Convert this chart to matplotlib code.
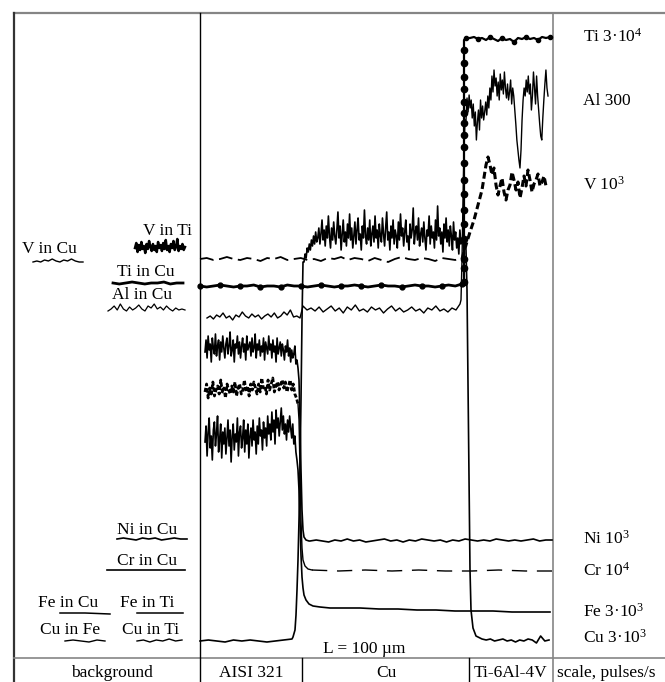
import numpy as np
import matplotlib
matplotlib.use("Agg")
import matplotlib.pyplot as plt

plt.rcParams['font.family'] = ['Liberation Serif', 'DejaVu Serif']
plt.rcParams['mathtext.fontset'] = 'custom'
plt.rcParams['mathtext.rm'] = 'Liberation Serif'
plt.rcParams['mathtext.it'] = 'Liberation Serif:italic'
plt.rcParams['lines.scale_dashes'] = False

# ---------------- data (pixel-scale units, y grows downward) ----------------
# Cu signal
cu_aisi = [641, 640, 641, 642, 640, 641, 640, 641, 642, 641, 640, 639]
cu_rise_x = [293, 295, 296, 297, 298, 299, 300, 301, 302, 303]
cu_rise_y = [637, 630, 615, 590, 560, 520, 470, 400, 320, 262]
cu_cu = [262, 254, 258, 248, 252, 244, 250, 240, 246, 236, 244, 232, 242, 238, 228,
         244, 234, 220, 240, 230, 246, 226, 238, 216, 236, 248, 228, 240, 222, 236,
         244, 230, 212, 238, 226, 250, 234, 220, 242, 232, 246, 224, 238, 214, 240,
         228, 248, 236, 222, 244, 230, 218, 240, 234, 250, 226, 238, 210, 236, 244,
         228, 240, 220, 246, 234, 226, 242, 216, 238, 230, 248, 224, 236, 242, 218,
         234, 246, 228, 212, 240, 232, 250, 226, 238, 220, 244, 230, 236, 248, 222,
         240, 214, 236, 228, 246, 232, 220, 242, 236, 250, 224, 238, 230, 208, 244,
         232, 226, 240, 218, 246, 234, 228, 242, 222, 238, 250, 230, 236, 216, 244,
         226, 238, 232, 248, 220, 240, 206, 236, 228, 244, 232, 252, 224, 238, 218,
         242, 230, 246, 226, 236, 250, 222, 240, 232, 248, 238, 254, 230, 244, 240]
cu_drop_x = [464, 466, 467, 468, 469, 470, 471, 473, 476, 480]
cu_drop_y = [240, 250, 290, 380, 480, 570, 610, 628, 636, 638]
cu_ti = [639, 640, 639, 641, 640, 639, 641, 640, 642, 640, 641, 639, 640, 643, 636, 641, 640]

# Ni signal
ni_aisi = [352, 340, 358, 336, 350, 344, 362, 338, 348, 354,
           334, 356, 346, 340, 360, 342, 352, 336, 348, 358,
           344, 338, 354, 346, 332, 356, 350, 340, 362, 344,
           348, 336, 354, 342, 358, 346, 338, 352, 344, 360,
           336, 350, 346, 342, 356, 338, 352, 348, 334, 358,
           344, 350, 340, 356, 346, 352, 338, 360, 342, 348,
           354, 336, 350, 344, 358, 340, 352, 346, 362, 338,
           354, 348, 342, 356, 344, 350, 360, 346, 352, 340,
           356, 348, 362, 350, 358, 354, 346, 364, 360, 368]
ni_drop_x = [299, 300, 301, 302, 303, 304, 306, 309]
ni_drop_y = [380, 420, 470, 510, 530, 537, 540, 541]
ni_rest = [541, 540, 541, 542, 540, 541, 539, 541, 540, 542, 541, 540, 539, 541, 540, 542,
           540, 541, 539, 540, 541, 540, 542, 540, 541, 539, 540, 541, 540, 541, 539, 540,
           541, 540, 541, 540, 539, 541, 540, 540]

# Cr signal
cr_aisi = [392, 384, 398, 388, 394, 382, 396, 390, 386, 394,
           380, 392, 388, 398, 384, 390, 394, 386, 392, 382,
           396, 388, 384, 394, 390, 380, 392, 386, 396, 384,
           390, 382, 388, 394, 384, 392, 378, 388, 386, 394,
           380, 390, 384, 378, 392, 386, 382, 390, 384, 380,
           388, 382, 392, 386, 380, 390, 384, 394, 398, 404]
cr_drop_x = [299, 300, 301, 302, 303, 305, 308, 312]
cr_drop_y = [420, 470, 520, 548, 560, 566, 569, 570]
cr_rest = [570, 571, 570, 571, 570, 571, 571, 570, 571, 571]

# Fe signal
fe_aisi = [442, 426, 456, 432, 418, 448, 436, 460, 430, 422,
           446, 434, 416, 452, 440, 424, 458, 432, 444, 428,
           454, 438, 420, 446, 430, 462, 436, 424, 450, 434,
           442, 418, 456, 432, 426, 448, 438, 420, 452, 430,
           444, 424, 458, 436, 428, 446, 420, 440, 432, 454,
           426, 444, 418, 436, 430, 450, 422, 438, 428, 446,
           416, 434, 424, 440, 412, 432, 420, 444, 410, 428,
           418, 436, 422, 408, 430, 416, 434, 424, 440, 420,
           432, 416, 428, 438, 424, 444, 436, 452, 460, 470]
fe_drop_x = [299, 300, 301, 302, 303, 304, 306, 309, 313, 320, 330, 345]
fe_drop_y = [490, 520, 555, 577, 588, 595, 600, 604, 606, 607, 608, 608]
fe_rest = [608, 609, 609, 610, 610, 611, 611, 611, 612, 612, 612]

# Al signal
al_aisi = [318, 316, 319, 315, 317, 313, 318, 316, 320, 315, 317, 312, 316, 318, 314, 317,
           315, 319, 316, 314, 317, 313, 318, 316, 312, 315, 310, 317, 316, 318]
al_cu = [306, 310, 308, 311, 307, 312, 309, 306, 311, 308, 313, 307, 310, 305, 311, 309,
         312, 307, 310, 308, 313, 309, 306, 311, 308, 312, 310, 307, 311, 309, 313, 308,
         310, 306, 311, 309, 312, 308, 310, 304]
al_rise_x = [461, 462, 463, 464, 465]
al_rise_y = [300, 260, 200, 150, 120]
al_ti = [120, 98, 112, 95, 108, 100, 118, 104, 126, 112, 140, 122, 110, 130, 100, 118, 106, 120, 112, 102,
         115, 96, 108, 88, 100, 76, 92, 70, 86, 78, 96, 82, 100, 74, 90, 80, 94, 72, 88, 98,
         84, 100, 92, 80, 104, 88, 96, 110, 124, 140, 150, 160, 168, 150, 120, 100, 88, 96, 80, 92,
         76, 94, 84, 110, 96, 72, 88, 104, 76, 96, 110, 124, 136, 140, 118, 100, 84, 70, 88, 96]

# Ti signal
ti_base = [286, 287, 286, 285, 286, 287, 286, 286, 285, 287, 286, 286, 287, 285, 286, 286,
           287, 286, 285, 286, 287, 286, 286, 285, 286, 287, 286, 285, 286, 286, 287, 286,
           285, 286, 286, 287, 286, 285, 286, 284]
ti_top_x = [466, 470, 474, 478, 482, 486, 490, 494, 498, 502, 506, 510, 514, 518, 522, 526,
            530, 534, 538, 542, 546, 550]
ti_top_y = [38, 38, 37, 39, 38, 40, 37, 39, 41, 38, 40, 39, 42, 38, 39, 37, 39, 38, 40, 37, 38, 37]
ti_dots_y = [282, 268, 259, 239, 224, 210, 194, 180, 163, 147, 135, 123, 113, 102, 89, 77, 63, 50]

# V signal
v_base = [259, 258, 260, 259, 257, 259, 260, 258, 259, 261, 258, 259, 257, 260, 259, 258,
          260, 259, 261, 258, 259, 257, 260, 258, 259, 261, 258, 260, 262, 259, 257, 259,
          260, 258, 259, 261, 258, 259, 260, 258]
v_rise_x = [462, 466, 470, 474, 478, 482, 486]
v_rise_y = [259, 245, 232, 220, 205, 190, 165]
v_ti = [157, 165, 175, 168, 185, 195, 186, 178, 192, 200, 190, 185, 172, 180, 190, 182, 198, 188,
        176, 186, 170, 180, 192, 184, 180, 174, 186, 182, 176, 186]

# legend samples (background levels)
v_cu_sample = [262, 261, 262, 260, 261, 259, 261, 262, 260, 261, 259, 261, 262, 262]
v_ti_sample = [248, 243, 252, 245, 250, 242, 249, 246, 253, 244, 249, 241, 247, 251, 244, 250,
               246, 252, 242, 248, 245, 251, 243, 249, 240, 250, 246, 252, 244, 248, 241, 250,
               247, 239, 251, 246, 249, 244, 250, 247]
ti_sample = [283, 284, 283, 282, 283, 284, 283, 283, 282, 284, 283, 283]
al_sample = [311, 309, 306, 310, 304, 309, 311, 307, 310, 308, 305, 309, 311, 306, 308, 304,
             309, 307, 310, 306, 309, 311, 308, 310, 309, 310]
ni_sample = [539, 538, 539, 540, 538, 539, 538, 540, 539, 538, 539, 539]
cr_sample = [570, 570]
fe_cu_sample = [613, 613, 614]
fe_ti_sample = [613, 613, 613]
cu_fe_sample = [641, 640, 641, 642, 640, 641]
cu_ti_sample = [641, 640, 642, 640, 641, 639, 641, 640]

region_labels = ["AISI 321", "Cu", "Ti-6Al-4V"]
scale_labels = [r"Ti 3·10$^4$", "Al 300", r"V 10$^3$", r"Ni 10$^3$", r"Cr 10$^4$",
                r"Fe 3·10$^3$", r"Cu 3·10$^3$"]
scale_label_y = [42, 105, 190, 544, 576, 617, 643]

# ---------------- drawing ----------------
fig = plt.figure(figsize=(6.65, 6.82), dpi=100)
ax = fig.add_axes([0, 0, 1, 1])
ax.set_xlim(0, 665)
ax.set_ylim(682, 0)
ax.axis('off')

K = 'black'
grey = '#858585'

def seg(x0, x1, ys):
    return np.linspace(x0, x1, len(ys)), np.asarray(ys, float)

# frame
ax.plot([14, 665], [13, 13], color=grey, lw=1.6)
ax.plot([14, 14], [13, 682], color='#333333', lw=1.6)
ax.plot([14, 665], [658, 658], color=grey, lw=1.2)
ax.plot([200, 200], [13, 682], color=K, lw=1.0)
ax.plot([553, 553], [13, 682], color=grey, lw=1.2)
ax.plot([302, 302], [658, 682], color=K, lw=1.0)
ax.plot([469, 469], [658, 682], color=K, lw=1.0)

# Cu
x1, y1 = seg(200, 292, cu_aisi)
x3, y3 = seg(304, 462, cu_cu)
x5, y5 = seg(482, 549, cu_ti)
ax.plot(np.concatenate([x1, cu_rise_x, x3, cu_drop_x, x5]),
        np.concatenate([y1, cu_rise_y, y3, cu_drop_y, y5]), color=K, lw=1.2)

# Ni
x1, y1 = seg(205, 298, ni_aisi)
x3, y3 = seg(310, 552, ni_rest)
ax.plot(np.concatenate([x1, ni_drop_x, x3]), np.concatenate([y1, ni_drop_y, y3]), color=K, lw=1.2)

# Cr
x1, y1 = seg(205, 298, cr_aisi)
ax.plot(x1, y1, color=K, lw=2.0, dashes=(3, 1.5))
ax.plot(np.concatenate([[298], cr_drop_x]), np.concatenate([[y1[-1]], cr_drop_y]), color=K, lw=1.0)
x3, y3 = seg(312, 552, cr_rest)
ax.plot(x3, y3, color=K, lw=1.0, dashes=(11, 7))

# Fe
x1, y1 = seg(205, 298, fe_aisi)
x3, y3 = seg(360, 550, fe_rest)
ax.plot(np.concatenate([x1, fe_drop_x, x3]), np.concatenate([y1, fe_drop_y, y3]), color=K, lw=1.2)

# Al
x1, y1 = seg(207, 300, al_aisi)
x2, y2 = seg(303, 460, al_cu)
x4, y4 = seg(466, 548, al_ti)
ax.plot(np.concatenate([x1, x2, al_rise_x, x4]),
        np.concatenate([y1, y2, al_rise_y, y4]), color=K, lw=1.0)

# Ti
x1, y1 = seg(200, 462, ti_base)
ax.plot(x1, y1, color=K, lw=2.0, marker='o', ms=3.5, markevery=3)
ax.plot(np.concatenate([[462, 464, 464], ti_top_x]),
        np.concatenate([[y1[-1], 282, 40], ti_top_y]), color=K, lw=1.6)
ax.plot(np.full(len(ti_dots_y), 463.5), ti_dots_y, ls='none', marker='o', ms=4.5, color=K)
ax.plot(ti_top_x[::3], ti_top_y[::3], ls='none', marker='o', ms=3, color=K)

# V
x1, y1 = seg(200, 462, v_base)
ax.plot(x1, y1, color=K, lw=1.3, dashes=(10, 4))
x4, y4 = seg(488, 546, v_ti)
ax.plot(np.concatenate([v_rise_x, x4]), np.concatenate([v_rise_y, y4]),
        color=K, lw=2.2, dashes=(5, 2.5))

# legend samples
for x0, x1_, ys, lw in [(33, 83, v_cu_sample, 1.0), (135, 185, v_ti_sample, 1.8),
                        (113, 183, ti_sample, 2.0), (108, 185, al_sample, 0.9),
                        (117, 187, ni_sample, 1.2), (107, 185, cr_sample, 1.2),
                        (60, 110, fe_cu_sample, 1.1), (137, 183, fe_ti_sample, 1.1),
                        (65, 105, cu_fe_sample, 1.0), (137, 182, cu_ti_sample, 1.0)]:
    xs, ys_ = seg(x0, x1_, ys)
    ax.plot(xs, ys_, color=K, lw=lw)

# texts
fs = 12.5
def T(x, y, s, ha='left', size=fs):
    ax.text(x, y, s, ha=ha, va='baseline', fontsize=size, color=K)

T(22, 253, "V in Cu")
T(143, 235, "V in Ti")
T(117, 276, "Ti in Cu")
T(112, 299, "Al in Cu")
T(117, 534, "Ni in Cu")
T(117, 565, "Cr in Cu")
T(38, 607, "Fe in Cu")
T(120, 607, "Fe in Ti")
T(40, 634, "Cu in Fe")
T(122, 634, "Cu in Ti")
T(112, 677, "background", ha='center')

for s, y in zip(scale_labels, scale_label_y):
    T(583, y, s)

for s, xc in zip(region_labels, [251, 386, 511]):
    T(xc, 677, s, ha='center')
T(557, 677, "scale, pulses/s")
T(323, 653, "L = 100 µm")

fig.savefig("out.png", dpi=100)
